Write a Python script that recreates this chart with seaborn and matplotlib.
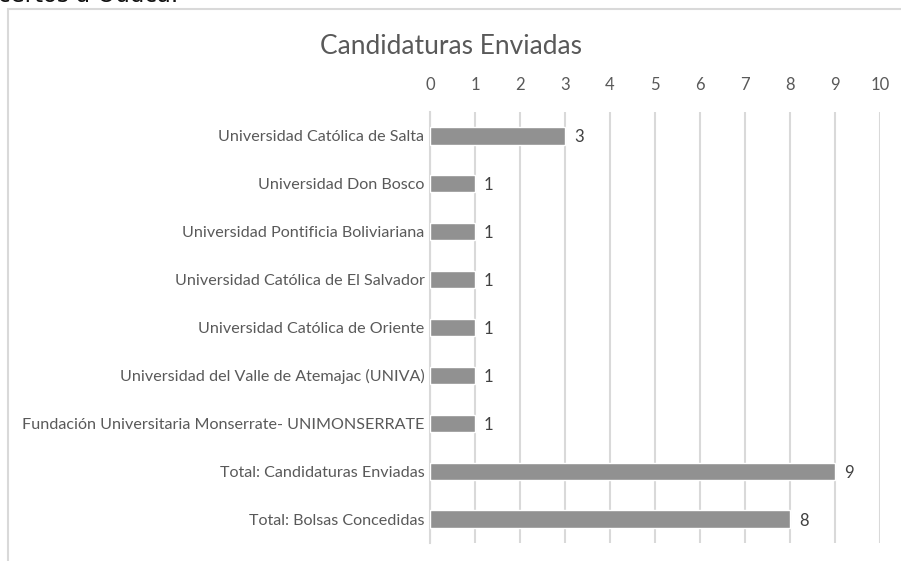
import matplotlib.pyplot as plt
import matplotlib.patches as patches
import pandas as pd
import seaborn as sns

# Data
universidades = ["Universidad Católica de Salta",
                 "Universidad Don Bosco",
                 "Universidad Pontificia Boliviariana",
                 "Universidad Católica de El Salvador",
                 "Universidad Católica de Oriente",
                 "Universidad del Valle de Atemajac (UNIVA)",
                 "Fundación Universitaria Monserrate- UNIMONSERRATE",
                 "Total: Candidaturas Enviadas",
                 "Total: Bolsas Concedidas"]
candidaturas = [3, 1, 1, 1, 1, 1, 1, 9, 8]
ticks = list(range(0, 11))

df = pd.DataFrame({'nome': universidades, 'valor': candidaturas})

sns.set_style('white')
plt.rcParams['font.family'] = ['Lato', 'DejaVu Sans']

fig = plt.figure(figsize=(9.01, 5.61), dpi=100)
ax = fig.add_axes([430/901, 1-543/561, 450/901, 431/561])

sns.barplot(data=df, y='nome', x='valor', orient='h', color='#919191',
            width=0.36, saturation=1, ax=ax, zorder=3)

ax.set_xlim(0, 10)
ax.set_xticks(ticks)
ax.xaxis.tick_top()
ax.tick_params(axis='x', length=0, pad=14, labelsize=12, labelcolor='#595959')
ax.tick_params(axis='y', length=0, pad=4, labelsize=11.6, labelcolor='#595959')
ax.grid(axis='x', color='#d9d9d9', linewidth=1.5, zorder=0)
ax.set_xlabel('')
ax.set_ylabel('')
for s in ['top', 'right', 'bottom']:
    ax.spines[s].set_visible(False)
ax.spines['left'].set_color('#d9d9d9')
ax.spines['left'].set_linewidth(1.5)

for i, v in enumerate(candidaturas):
    ax.text(v + 0.2, i, str(v), va='center_baseline', ha='left', fontsize=12, color='#404040')

fig.text(0.5, 1 - 46/561, 'Candidaturas Enviadas', fontsize=19, color='#595959',
         ha='center', va='center')

# chart frame
fig.patches.append(patches.Rectangle((8/901, 0 - 0.05), 1.05, 1 - 9/561 + 0.05,
                                     transform=fig.transFigure, fill=False,
                                     edgecolor='#d9d9d9', linewidth=1.5))
# clipped text from the document above
fig.text(-2/901, 1 - 1.5/561, 'certos a Oudca.', fontsize=16.5, color='#111111',
         family='DejaVu Sans', va='baseline', ha='left')

fig.savefig('out.png', dpi=100)
